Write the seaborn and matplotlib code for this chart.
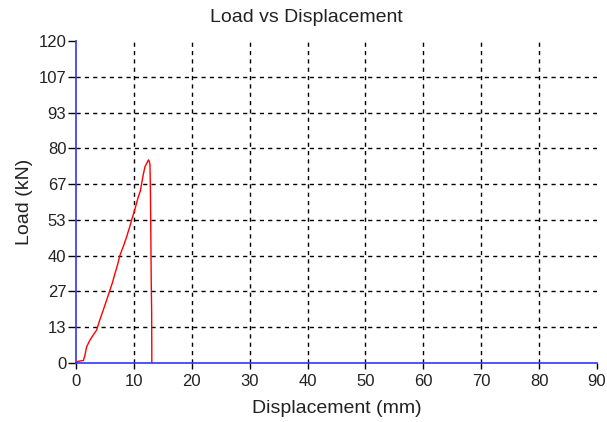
import matplotlib
matplotlib.use("Agg")
import matplotlib.pyplot as plt
import seaborn as sns
import pandas as pd
import numpy as np

displacement = [0.0, 0.3, 0.8, 1.26, 1.5, 1.85, 2.4, 3.0, 3.57, 4.1, 4.72, 5.3, 5.87, 6.3, 6.74, 7.2,
                7.6, 8.2, 8.76, 9.2, 9.62, 10.2, 10.77, 11.1, 11.35, 11.6, 11.92, 12.2, 12.5, 12.65,
                12.78, 12.85, 12.9, 13.0, 13.07, 13.1]
load = [0.0, 0.6, 0.8, 0.9, 2.5, 6.1, 8.5, 10.5, 12.3, 16.0, 19.8, 23.5, 27.2, 30.0, 33.4, 36.8,
        40.2, 43.6, 47.1, 50.2, 53.3, 57.5, 62.0, 64.0, 67.0, 70.0, 73.2, 74.3, 75.7, 75.2,
        73.8, 65.0, 54.5, 30.0, 18.5, 0.0]
x_ticks = [0, 10, 20, 30, 40, 50, 60, 70, 80, 90]
y_tick_labels = ["0", "13", "27", "40", "53", "67", "80", "93", "107", "120"]
y_max = 120

df = pd.DataFrame({"Displacement (mm)": displacement, "Load (kN)": load})

sns.set_style("white")
plt.rcParams["font.family"] = ["Liberation Sans", "DejaVu Sans"]

fig = plt.figure(figsize=(6.07, 4.22), dpi=100)
ax = fig.add_axes([76 / 607, 1 - 363 / 422, 521 / 607, 322 / 422])

y_ticks = np.linspace(0, y_max, len(y_tick_labels))

for xv in x_ticks[1:-1]:
    ax.axvline(xv, color="black", lw=1, ls=(0, (3, 3)), zorder=1)
for yv in y_ticks[1:-1]:
    ax.axhline(yv, color="black", lw=1, ls=(0, (3, 3)), zorder=1)

sns.lineplot(data=df, x="Displacement (mm)", y="Load (kN)", sort=False, estimator=None,
             color="red", lw=1.0, ax=ax, zorder=3)

ax.set_xlim(0, 90)
ax.set_ylim(0, y_max)
ax.set_xticks(x_ticks)
ax.set_yticks(y_ticks)
ax.set_yticklabels(y_tick_labels)
ax.tick_params(axis="x", direction="out", length=4, width=1, color="black",
               labelsize=12, labelcolor="#222222", pad=4, bottom=True)
ax.tick_params(axis="y", direction="out", length=6, width=1, color="black",
               labelsize=12, labelcolor="#222222", pad=1, left=True)
for s in ["top", "right"]:
    ax.spines[s].set_visible(False)
for s in ["left", "bottom"]:
    ax.spines[s].set_color("#3333ff")
    ax.spines[s].set_linewidth(1.2)
ax.spines["bottom"].set_zorder(4)

ax.set_xlabel("Displacement (mm)", fontsize=14, color="#222222", labelpad=8)
ax.set_ylabel("Load (kN)", fontsize=14, color="#222222", labelpad=4)
ax.set_title("Load vs Displacement", fontsize=14, color="#222222", pad=14, x=(306 - 76) / 521)

fig.savefig("out.png", dpi=100)
